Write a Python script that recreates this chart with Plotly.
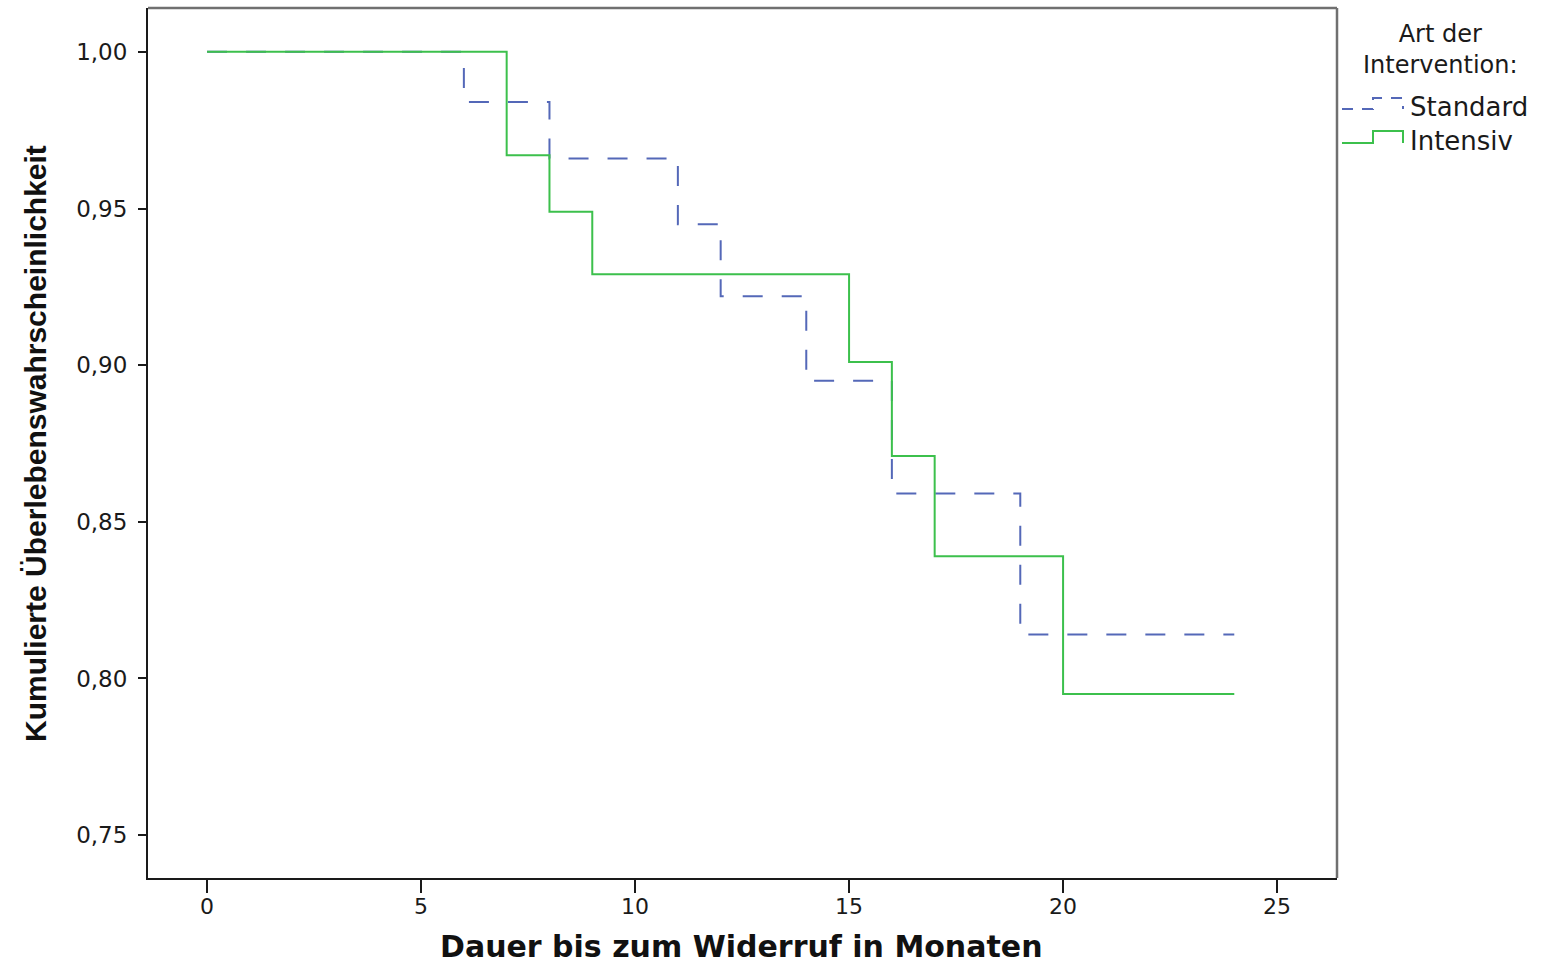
import plotly.graph_objects as go

# Kaplan-Meier step data (time in months, cumulative survival)
std_time = [0, 6, 8, 11, 12, 14, 16, 19, 24]
std_surv = [1.000, 0.984, 0.966, 0.945, 0.922, 0.895, 0.859, 0.814, 0.814]

int_time = [0, 7, 8, 9, 15, 16, 17, 20, 24]
int_surv = [1.000, 0.967, 0.949, 0.929, 0.901, 0.871, 0.839, 0.795, 0.795]

x_ticks = [0, 5, 10, 15, 20, 25]
y_ticks = [0.75, 0.80, 0.85, 0.90, 0.95, 1.00]
y_labels = ["0,75", "0,80", "0,85", "0,90", "0,95", "1,00"]

x_title = "Dauer bis zum Widerruf in Monaten"
y_title = "Kumulierte Überlebenswahrscheinlichkeit"

STD_COLOR = "#5468b8"
INT_COLOR = "#3cc04c"

W, H = 1544, 967
L, R, T, B = 148, 207, 8, 89
PW, PH = W - L - R, H - T - B


def fx(px):
    return (px - L) / PW


def fy(py):
    return (H - B - py) / PH


fig = go.Figure()
fig.add_trace(go.Scatter(
    x=std_time, y=std_surv, mode="lines", name="Standard", showlegend=False,
    line=dict(shape="hv", color=STD_COLOR, width=2, dash="20px,19px"),
))
fig.add_trace(go.Scatter(
    x=int_time, y=int_surv, mode="lines", name="Intensiv", showlegend=False,
    line=dict(shape="hv", color=INT_COLOR, width=2),
))

shapes = [
    # top and right frame (grey)
    dict(type="line", xref="paper", yref="paper", x0=0, x1=1, y0=1, y1=1,
         line=dict(color="#707070", width=2.5)),
    dict(type="line", xref="paper", yref="paper", x0=1, x1=1, y0=0, y1=1,
         line=dict(color="#707070", width=2.5)),
]


def step_symbol(y_low, y_high, color, dash):
    pts = [(1342, y_low), (1373, y_low), (1373, y_high), (1403, y_high), (1403, y_low)]
    path = "M " + " L ".join(f"{fx(a):.5f},{fy(b):.5f}" for a, b in pts)
    return dict(type="path", xref="paper", yref="paper", path=path,
                line=dict(color=color, width=2, dash=dash))


shapes.append(step_symbol(109, 98, STD_COLOR, "11px,9px"))
shapes.append(step_symbol(143, 131, INT_COLOR, "solid"))

LEG_FONT = dict(family="DejaVu Sans, sans-serif", size=26, color="#1a1a1a")
TITLE_FONT = dict(family="DejaVu Sans, sans-serif", size=24, color="#1a1a1a")
annotations = [
    dict(text="Art der<br>Intervention:", x=fx(1440), y=fy(50), xref="paper", yref="paper",
         xanchor="center", yanchor="middle", align="center", showarrow=False,
         font=TITLE_FONT),
    dict(text="Standard", x=fx(1408), y=fy(107), xref="paper", yref="paper",
         xanchor="left", yanchor="middle", showarrow=False, font=LEG_FONT),
    dict(text="Intensiv", x=fx(1408), y=fy(141), xref="paper", yref="paper",
         xanchor="left", yanchor="middle", showarrow=False, font=LEG_FONT),
    dict(text=f"<b>{x_title}</b>", x=fx(741), y=fy(946), xref="paper", yref="paper",
         xanchor="center", yanchor="middle", showarrow=False,
         font=dict(family="DejaVu Sans, sans-serif", size=30, color="#111")),
    dict(text=f"<b>{y_title}</b>", x=fx(36), y=fy(444), xref="paper", yref="paper",
         xanchor="center", yanchor="middle", showarrow=False, textangle=-90,
         font=dict(family="Liberation Sans, Arial, sans-serif", size=30, color="#111")),
]

fig.update_layout(
    width=W, height=H,
    margin=dict(l=L, r=R, t=T, b=B, autoexpand=False),
    plot_bgcolor="white", paper_bgcolor="white",
    font=dict(family="DejaVu Sans, sans-serif", color="#1a1a1a"),
    showlegend=False,
    shapes=shapes,
    annotations=annotations,
    xaxis=dict(
        range=[-1.38, 26.4], tickvals=x_ticks, ticktext=[str(v) for v in x_ticks],
        ticks="outside", ticklen=13, tickwidth=2, tickcolor="#1a1a1a",
        showline=True, linecolor="#1a1a1a", linewidth=2, automargin=False,
        showgrid=False, zeroline=False, ticklabelstandoff=-5,
        tickfont=dict(family="DejaVu Sans, sans-serif", size=22, color="#1a1a1a"),
    ),
    yaxis=dict(
        range=[0.7363, 1.014], tickvals=y_ticks, ticktext=y_labels,
        ticks="outside", ticklen=8, tickwidth=2, tickcolor="#1a1a1a",
        showline=True, linecolor="#1a1a1a", linewidth=2, automargin=False,
        showgrid=False, zeroline=False, ticklabelstandoff=6,
        tickfont=dict(family="DejaVu Sans, sans-serif", size=23, color="#1a1a1a"),
    ),
)

fig.write_html("out.html")
